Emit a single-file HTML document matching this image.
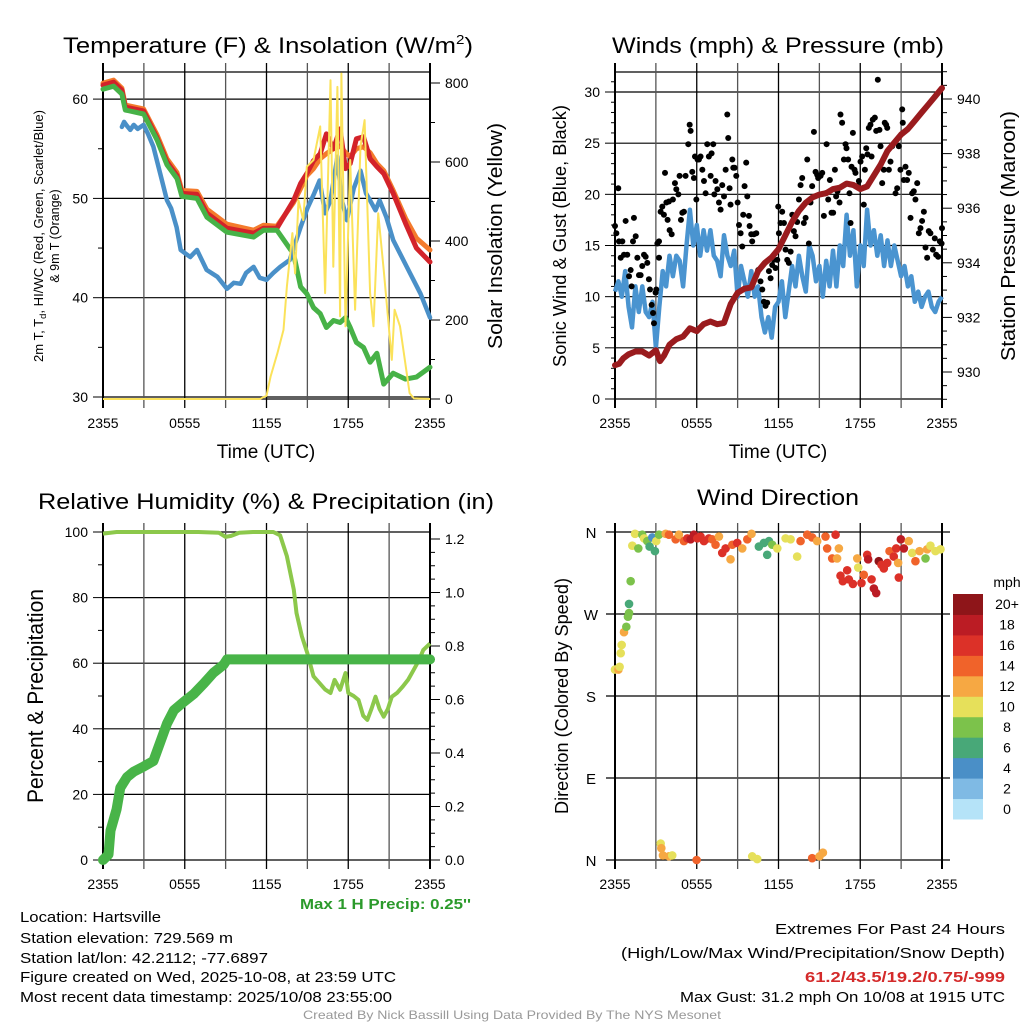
<!DOCTYPE html>
<html><head><meta charset="utf-8"><style>
html,body{margin:0;padding:0;background:#fff}
svg{display:block;font-family:"Liberation Sans",sans-serif}
</style></head><body>
<svg id="chart" width="1024" height="1024" viewBox="0 0 1024 1024" xmlns="http://www.w3.org/2000/svg">
<rect x="0" y="0" width="1024" height="1024" fill="#fff"/>
<g id="layer"></g>
<!-- titles -->
<text x="268" y="53" text-anchor="middle" font-size="22" textLength="410" lengthAdjust="spacingAndGlyphs">Temperature (F) &amp; Insolation (W/m<tspan font-size="13" dy="-9">2</tspan><tspan dy="9">)</tspan></text>
<text x="778" y="53" text-anchor="middle" font-size="22" textLength="332" lengthAdjust="spacingAndGlyphs">Winds (mph) &amp; Pressure (mb)</text>
<text x="266" y="509" text-anchor="middle" font-size="22" textLength="456" lengthAdjust="spacingAndGlyphs">Relative Humidity (%) &amp; Precipitation (in)</text>
<text x="778" y="505" text-anchor="middle" font-size="22" textLength="162" lengthAdjust="spacingAndGlyphs">Wind Direction</text>
<!-- axis titles -->
<text x="266" y="458" text-anchor="middle" font-size="19">Time (UTC)</text>
<text x="778" y="458" text-anchor="middle" font-size="19">Time (UTC)</text>
<text transform="translate(43,236) rotate(-90)" text-anchor="middle" font-size="12.5" textLength="252" lengthAdjust="spacingAndGlyphs">2m T, T<tspan font-size="9" dy="3">d</tspan><tspan dy="-3">, HI/WC (Red, Green, Scarlet/Blue)</tspan></text>
<text transform="translate(59,236) rotate(-90)" text-anchor="middle" font-size="12.5">&amp; 9m T (Orange)</text>
<text transform="translate(502,236) rotate(-90)" text-anchor="middle" font-size="20" textLength="226" lengthAdjust="spacingAndGlyphs">Solar Insolation (Yellow)</text>
<text transform="translate(566,236) rotate(-90)" text-anchor="middle" font-size="18" textLength="262" lengthAdjust="spacingAndGlyphs">Sonic Wind &amp; Gust (Blue, Black)</text>
<text transform="translate(1015,236) rotate(-90)" text-anchor="middle" font-size="20" textLength="250" lengthAdjust="spacingAndGlyphs">Station Pressure (Maroon)</text>
<text transform="translate(43,696) rotate(-90)" text-anchor="middle" font-size="22" textLength="214" lengthAdjust="spacingAndGlyphs">Percent &amp; Precipitation</text>
<text transform="translate(568,696) rotate(-90)" text-anchor="middle" font-size="18" textLength="236" lengthAdjust="spacingAndGlyphs">Direction (Colored By Speed)</text>
<!-- footer text -->
<text x="471" y="909" text-anchor="end" font-size="15" font-weight="bold" fill="#2b9a2b" textLength="171" lengthAdjust="spacingAndGlyphs">Max 1 H Precip: 0.25''</text>
<g font-size="15">
<text x="20" y="922" textLength="141" lengthAdjust="spacingAndGlyphs">Location: Hartsville</text>
<text x="20" y="943" textLength="213" lengthAdjust="spacingAndGlyphs">Station elevation: 729.569 m</text>
<text x="20" y="963" textLength="248" lengthAdjust="spacingAndGlyphs">Station lat/lon: 42.2112; -77.6897</text>
<text x="20" y="982" textLength="376" lengthAdjust="spacingAndGlyphs">Figure created on Wed, 2025-10-08, at 23:59 UTC</text>
<text x="20" y="1002" textLength="372" lengthAdjust="spacingAndGlyphs">Most recent data timestamp: 2025/10/08 23:55:00</text>
</g>
<g font-size="15" text-anchor="end">
<text x="1005" y="934" textLength="230" lengthAdjust="spacingAndGlyphs">Extremes For Past 24 Hours</text>
<text x="1005" y="958" textLength="384" lengthAdjust="spacingAndGlyphs">(High/Low/Max Wind/Precipitation/Snow Depth)</text>
<text x="1005" y="982" textLength="200" lengthAdjust="spacingAndGlyphs" font-weight="bold" fill="#d42a2a">61.2/43.5/19.2/0.75/-999</text>
<text x="1005" y="1002" textLength="325" lengthAdjust="spacingAndGlyphs">Max Gust: 31.2 mph On 10/08 at 1915 UTC</text>
</g>
<text x="512" y="1019" text-anchor="middle" font-size="12" fill="#999" textLength="418" lengthAdjust="spacingAndGlyphs">Created By Nick Bassill Using Data Provided By The NYS Mesonet</text>
</svg>
<script>
// ---------- DATA ----------
const xTickLabels = ["2355","0555","1155","1755","2355"];
// temperature panel (hours since 2355)
const tempHours = [0,0.78,1.39,1.64,2.98,3.96,4.69,5.43,5.79,6.9,7.63,9.1,11.05,11.78,12.76,13.99,14.5,14.96,15.45,15.94,16.4,16.92,17.4,17.8,18.14,18.6,19.12,19.6,20.1,20.6,21.3,22.2,23.0,24];
const redT =   [61.4,61.7,60.9,59.2,58.8,56.1,53.7,52.3,50.5,50.4,48.5,47.0,46.5,47.0,47.0,49.8,51.5,52.5,53.8,54.5,56.5,55.0,57.0,53.0,53.5,56.0,56.2,54.0,53.2,52.5,50.5,47.5,45.0,43.6];
const orangeT =[61.6,61.9,61.1,59.4,59.0,56.4,54.0,52.6,50.8,50.7,48.9,47.4,46.8,47.3,47.2,49.6,51.0,52.3,53.0,54.0,54.5,55.0,55.3,54.6,54.2,55.0,55.2,54.6,53.5,52.8,50.8,48.0,46.0,44.8];
const greenT = [61.0,61.3,60.5,58.9,58.5,55.9,53.4,52.0,50.2,50.0,48.1,46.6,46.1,46.8,46.8,44.4,41.1,40.4,39.0,38.4,37.0,37.7,37.5,38.0,37.0,35.5,35.0,33.5,34.4,31.3,32.4,31.8,32.0,33.0];
const dewHours = [1.39,1.55,1.76,2.0,2.25,2.55,2.98,3.3,3.7,4.2,4.7,5.0,5.4,5.7,6.4,6.9,7.6,8.4,9.1,9.6,10.1,10.5,11.05,11.5,12.0,12.5,13.0,13.7,14.5,15.0,15.5,15.9,16.3,16.7,17.2,17.5,17.9,18.4,18.9,19.3,19.6,20.0,20.3,20.8,21.3,22.3,23.3,24];
const dewT =   [57.2,57.7,57.3,56.9,57.4,57.0,57.4,56.5,55.2,52.5,49.8,49.0,47.1,44.8,44.1,44.8,42.8,42.1,40.9,41.5,41.4,42.5,43.1,42.0,41.8,42.5,43.1,43.8,47.1,49.0,50.5,51.8,48.5,49.8,54.2,50.0,47.8,51.0,52.8,50.5,49.8,48.8,49.8,48.1,45.8,43.1,40.4,38.0];
const solarHours = [0,11.5,12.0,12.3,12.8,13.25,13.5,13.9,14.1,14.35,14.7,14.96,15.45,15.94,16.3,16.7,16.9,17.2,17.4,17.5,17.8,18.14,18.5,18.9,19.2,19.6,19.85,20.2,20.6,21.2,21.4,21.8,22.5,22.8,24];
const solarW =     [0,0,8,57,116,175,285,420,318,503,453,588,605,690,268,807,335,790,209,824,184,605,226,640,706,268,184,470,327,99,226,184,15,2,0];
// wind panel
const windHours = Array.from({length:97},(_,i)=>i*0.25);
const windSpeed = [10.5,11.5,10,12.5,9,7,11,8.5,11,8.5,8,9.5,5,9,12.5,11,14,12,14,13.5,11,15,18.5,15,17,14,16.5,14.5,16.5,14,13.5,12,16,14,13,14.5,10,13,11.5,10,12.5,10,11,8,6.5,8,6,9,9.5,11.5,8,10.5,13,11,14,12,10.5,15,14,11.5,13,10,13.5,11,14.5,11,15,13,18,14,16.5,11,15,13,18.5,15,16.5,14,16,13,15.5,13,15,13.5,12,13,11,12,9.5,10.5,9,10,10.5,9,8.5,9.5,10];
const gustHours = [0,0.1,0.24,0.29,0.42,0.54,0.66,0.78,0.9,1.03,1.15,1.22,1.32,1.39,1.52,1.64,1.76,1.88,2.0,2.13,2.25,2.37,2.49,2.57,2.69,2.79,2.86,2.98,3.03,3.11,3.23,3.23,3.35,3.47,3.59,3.67,3.77,3.86,3.96,4.01,4.16,4.25,4.4,4.5,4.65,4.74,4.84,4.94,5.06,5.18,5.38,5.48,5.55,5.67,5.79,5.87,5.97,6.06,6.16,6.28,6.41,6.53,6.65,6.77,6.89,7.02,7.09,7.21,7.29,7.38,7.51,7.63,7.75,7.87,8.0,8.12,8.24,8.31,8.41,8.48,8.61,8.68,8.78,8.9,9.0,9.1,9.22,9.34,9.41,9.51,9.63,9.71,9.83,9.88,10.0,10.07,10.2,10.37,10.51,10.68,10.81,10.93,11.05,11.17,11.3,11.42,11.54,11.66,11.78,11.91,11.98,12.03,12.15,12.27,12.4,12.52,12.64,12.76,12.89,13.01,13.13,13.25,13.37,13.5,13.62,13.74,13.86,13.99,14.11,14.23,14.35,14.47,14.6,14.72,14.84,14.91,15.09,15.21,15.33,15.45,15.53,15.65,15.77,15.89,16.01,16.14,16.23,16.33,16.48,16.55,16.67,16.8,16.92,16.99,17.11,17.21,17.29,17.36,17.46,17.58,17.65,17.78,17.9,18.02,18.14,18.26,18.34,18.44,18.53,18.63,18.75,18.83,18.92,19.07,19.17,19.29,19.41,19.49,19.61,19.73,19.8,19.9,19.98,20.1,20.22,20.34,20.59,20.71,20.83,20.95,21.08,21.12,21.2,21.32,21.44,21.56,21.69,21.81,21.93,22.05,22.18,22.3,22.42,22.54,22.67,22.79,22.91,23.03,23.15,23.33,23.47,23.57,23.72,23.84,24.0,23.97];
const gustSpeed = [16.9,16.2,20.6,15.4,13.8,15.4,14.1,17.4,14.1,12.0,12.6,11.0,15.4,17.7,15.9,13.8,12.1,12.1,13.0,14.1,13.9,13.3,11.7,10.7,9.2,8.4,7.4,10.4,10.7,15.2,15.4,13.8,18.3,18.8,18.0,22.1,19.2,17.5,19.3,16.5,16.1,19.5,21.1,20.5,20.0,21.8,17.5,18.2,18.3,21.8,24.9,26.8,26.2,22.2,21.6,23.7,19.5,23.4,23.4,23.7,22.4,21.3,20.1,24.9,23.7,21.8,24.0,24.9,20.0,21.3,20.5,19.2,18.5,20.9,19.8,22.4,27.8,25.5,20.6,19.0,23.4,22.6,22.6,21.8,19.2,17.0,16.2,14.9,18.0,20.8,23.1,19.8,17.9,16.9,16.1,15.4,16.1,16.2,12.6,11.5,10.7,9.5,9.1,9.4,12.5,11.8,13.1,13.6,12.8,13.6,18.8,16.2,17.2,18.3,17.2,14.6,13.6,13.3,14.4,18.0,16.4,15.9,17.3,19.5,20.9,21.6,17.2,17.7,23.4,15.2,19.2,20.8,26.1,22.2,21.9,21.6,21.8,22.1,17.9,20.1,24.9,19.5,21.4,18.2,18.2,22.4,19.8,20.3,19.2,27.8,27.0,23.4,24.9,24.5,23.4,20.1,17.2,22.7,26.0,22.4,22.1,20.8,21.3,23.2,23.7,19.0,22.4,24.5,23.9,26.5,26.8,23.7,27.3,27.5,26.2,31.2,26.3,24.7,21.1,22.4,27.0,26.8,26.5,22.4,23.2,24.7,20.1,20.6,24.7,22.4,28.3,27.0,21.4,22.7,21.4,22.1,17.7,20.1,20.3,19.5,21.1,16.2,16.7,17.4,18.3,14.8,13.8,16.4,16.2,14.6,15.7,14.1,13.9,15.4,16.7,15.2];
const presHours = [0,0.3,0.6,1.0,1.5,2.0,2.5,3.0,3.3,3.6,4.0,4.5,5.0,5.5,6.0,6.5,7.0,7.5,8.0,8.5,9.0,9.5,10.0,10.5,11.0,11.5,12.0,12.5,13.0,13.5,14.0,14.5,15.0,15.5,16.0,16.5,17.0,17.5,18.0,18.5,19.0,19.5,20.0,20.5,21.0,21.5,22.0,22.5,23.0,23.5,24];
const pressure =  [930.25,930.3,930.5,930.65,930.75,930.75,930.6,930.8,930.4,930.6,931.0,931.2,931.3,931.6,931.5,931.75,931.85,931.75,931.8,932.5,932.9,933.05,933.1,933.7,934.0,934.2,934.5,935.0,935.5,935.9,936.2,936.4,936.5,936.55,936.7,936.75,936.9,936.85,936.7,936.8,937.2,937.6,938.1,938.4,938.7,938.9,939.2,939.5,939.8,940.1,940.4];
// humidity panel
const rhHours = [0,1,2,3,5,7,8.5,9.0,9.4,10,11,12,12.5,13,13.5,14,14.2,14.6,15,15.45,15.9,16.3,16.7,17,17.4,17.8,18,18.4,18.75,19.1,19.4,19.7,20,20.3,20.6,20.9,21.2,21.6,22,22.4,22.8,23.2,23.5,24];
const rhValues = [99.5,100,100,100,100,100,99.8,98.5,98.8,99.8,100,100,100,99,92.6,82.4,75.3,68.2,63,56,53.9,52,50.9,54.9,51.9,57,50.9,50,48.8,44,42.7,46,49.8,46,43.7,46,49.8,51,52.9,55,58,61,64,66];
const precipHours = [0,0.4,0.55,1.0,1.27,1.76,2.25,3.0,3.7,4.2,4.7,5.2,5.9,6.65,7.4,8.1,8.85,9.1,12,16,20,24];
const precipIn =    [0,0.02,0.11,0.19,0.27,0.31,0.33,0.35,0.37,0.44,0.51,0.56,0.59,0.62,0.66,0.70,0.73,0.75,0.75,0.75,0.75,0.75];
// wind direction panel
const dirHours = [0,0.25,0.34,0.42,0.49,0.66,0.83,0.95,1.03,1.03,1.15,1.27,1.47,1.71,2.0,2.13,2.37,2.54,2.74,2.93,3.03,3.23,3.35,3.4,3.52,3.96,4.2,5.99,3.72,3.96,4.45,4.69,5.06,5.31,5.55,5.79,6.04,6.28,6.53,6.89,7.14,7.38,7.63,7.87,8.12,8.48,8.61,8.97,9.34,9.71,10.02,10.56,10.93,11.17,11.3,11.54,11.91,12.52,12.89,13.37,13.62,14.11,14.47,14.84,15.45,15.57,15.94,16.3,16.19,16.43,16.55,16.72,17.04,17.16,17.46,17.78,17.85,18.09,18.26,18.51,18.58,18.83,19.0,19.17,19.36,19.56,19.73,19.98,20.15,20.46,20.64,20.78,20.83,20.98,21.2,21.56,21.81,22.05,22.35,22.79,22.91,23.15,23.52,23.89,10.07,10.44,14.47,15.01,15.26];
const dirDeg =   [209,209,212,227,236,250,256,267,271,281,306,345,358,342,357,353,350,344,354,339,350,357,18,13,5,4,5,0,358,357,352,357,350,353,352,357,353,355,350,353,352,346,355,337,342,330,346,348,342,352,358,344,348,335,350,346,342,353,352,333,350,357,354,350,355,342,331,331,357,342,312,306,318,308,303,331,321,304,313,335,330,308,298,293,328,324,320,326,339,333,342,326,310,352,342,350,337,328,339,331,341,345,339,341,4,1,2,4,8];
const dirSpeed = [11,13,11,10,10,13,8,8,8,6,8,10,11,8,8,10,8,7,4,6,10,8,10,12,12,12,10,14,12,14,14,13,14,17,18,18,17,16,16,16,14,14,12,16,16,12,14,16,12,14,12,7,6,6,6,8,10,10,10,10,14,14,14,12,14,14,14,12,16,12,16,17,16,17,16,12,10,16,14,16,18,16,18,18,20,16,16,17,14,16,16,12,16,18,18,12,10,14,12,8,12,10,10,10,10,10,14,12,12];
const speedLabels = ["0","2","4","6","8","10","12","14","16","18","20+"];
const speedColors = ["#b5e3f8","#7fbae4","#4a8fc7","#48a878","#7cc24b","#e6e05a","#f6a843","#f0632a","#dc3128","#bb1c24","#8e1519"];
const dirLabels = ["N","E","S","W","N"];

// ---------- DRAWING ----------
const NS="http://www.w3.org/2000/svg";
const layer=document.getElementById('layer');
function mk(tag,attrs,parent){const e=document.createElementNS(NS,tag);for(const k in attrs)e.setAttribute(k,attrs[k]);(parent||layer).appendChild(e);return e;}
function lin(d0,d1,r0,r1){return v=>r0+(v-d0)*(r1-r0)/(d1-d0);}
function pathD(xs,ys,fx,fy){return xs.map((h,i)=>(i?'L':'M')+fx(h).toFixed(1)+','+fy(ys[i]).toFixed(1)).join('');}

function xAxis(g,x0,x1,yTop,yBot,labelY){
  const fx=lin(0,24,x0,x1);
  for(let i=0;i<=8;i++){
    const x=fx(i*3);
    const l=mk('line',{x1:x,y1:yTop-9,x2:x,y2:yBot+9,stroke:(i%2?'#555':'#000'),'stroke-width':(i==0||i==8)?2:1.3},g);
    
    
  }
  xTickLabels.forEach((t,i)=>{
    const tx=mk('text',{x:fx(i*6),y:labelY,'text-anchor':'middle','font-size':14},g);
    tx.textContent=t;
    
    
  });
  return fx;
}
function yTicks(g,fy,vals,xEdge,side,len,fmt,labels){
  vals.forEach(v=>{
    const y=fy(v);
    const t=mk('line',{x1:xEdge,y1:y,x2:xEdge+side*len,y2:y,stroke:'#000','stroke-width':1},g);
    
    
    if(labels){
      const tx=mk('text',{x:xEdge+side*(len+5),y:y+5,'text-anchor':side<0?'end':'start','font-size':14},g);
      tx.textContent=fmt(v);
      
      
    }
  });
}
function hgrid(g,fy,vals,x0,x1){
  vals.forEach(v=>{const l=mk('line',{x1:x0,y1:fy(v),x2:x1,y2:fy(v),stroke:'#000','stroke-width':1.2},g);
    
    });
}
function range(a,b,s){const r=[];for(let v=a;v<=b+1e-9;v+=s)r.push(+v.toFixed(4));return r;}

// Panel 1: temperature
(function(){
  const g=mk('g',{});
  
  
  const X0=103,X1=430,YT=72,YB=399;
  const fy=lin(30,40,397,297.7);
  const fs=lin(0,800,399,83);
  hgrid(g,fy,[30,40,50,60],X0,X1);
  mk('line',{x1:X0,y1:YT,x2:X1,y2:YT,stroke:'#000','stroke-width':1.2},g);
  mk('line',{x1:X0,y1:YB,x2:X1,y2:YB,stroke:'#000','stroke-width':1.2},g);
  const fx=xAxis(g,X0,X1,YT,YB,428);
  yTicks(g,fy,[30,40,50,60],X0,-1,10,v=>v,true);
  yTicks(g,fy,[35,45,55],X0,-1,5,v=>v,false);
  yTicks(g,fs,[0,200,400,600,800],X1,1,10,v=>v,true);
  yTicks(g,fs,[100,300,500,700],X1,1,5,v=>v,false);
  const s=[['orange-9m-temp-line',tempHours,orangeT,'#f47b2c',5],['red-2m-temp-line',tempHours,redT,'#d3232a',5],['green-hiwc-line',tempHours,greenT,'#47b247',5],['blue-dewpoint-line',dewHours,dewT,'#4a90c8',4.5]];
  s.forEach(([n,xs,ys,c,w])=>{const p=mk('path',{d:pathD(xs,ys,fx,fy),fill:'none',stroke:c,'stroke-width':w,'stroke-linejoin':'round','stroke-linecap':'round'},g);
    
    });
  const sp=mk('path',{d:pathD(solarHours,solarW,fx,fs),fill:'none',stroke:'#fbe25a','stroke-width':2,'stroke-linejoin':'round'},g);
  
  
})();

// Panel 2: winds
(function(){
  const g=mk('g',{});
  
  
  const X0=615,X1=942,YT=72,YB=399;
  const fy=lin(0,30,399,92);
  const fp=lin(930,940,372,99);
  hgrid(g,fy,[5,10,15,20,25,30],X0,X1);
  mk('line',{x1:X0,y1:YT,x2:X1,y2:YT,stroke:'#000','stroke-width':1.2},g);
  mk('line',{x1:X0,y1:YB,x2:X1,y2:YB,stroke:'#000','stroke-width':1.2},g);
  const fx=xAxis(g,X0,X1,YT,YB,428);
  yTicks(g,fy,range(0,30,5),X0,-1,10,v=>v,true);
  yTicks(g,fy,range(1,31,1).filter(v=>v%5),X0,-1,4,v=>v,false);
  yTicks(g,fp,range(930,940,2),X1,1,10,v=>v,true);
  yTicks(g,fp,range(929,941,0.5).filter(v=>v%2),X1,1,5,v=>v,false);
  const bl=mk('path',{d:pathD(windHours,windSpeed,fx,fy),fill:'none',stroke:'#4a94d0','stroke-width':4.5,'stroke-linejoin':'round'},g);
  
  
  gustHours.forEach((h,i)=>{const c=mk('circle',{cx:fx(h),cy:fy(gustSpeed[i]),r:3,fill:'#000'},g);
    
    });
  const pl=mk('path',{d:pathD(presHours,pressure,fx,fp),fill:'none',stroke:'#9a1b1e','stroke-width':6,'stroke-linejoin':'round','stroke-linecap':'round'},g);
  
  
})();

// Panel 3: humidity & precip
(function(){
  const g=mk('g',{});
  
  
  const X0=103,X1=430,YT=532,YB=860;
  const fy=lin(0,100,860,532);
  const fr=lin(0,1.2,860,539);
  hgrid(g,fy,[0,20,40,60,80,100],X0,X1);
  const fx=xAxis(g,X0,X1,YT,YB,889);
  yTicks(g,fy,range(0,100,20),X0,-1,10,v=>v,true);
  yTicks(g,fy,range(10,90,20),X0,-1,5,v=>v,false);
  yTicks(g,fr,range(0,1.2,0.2),X1,1,10,v=>v.toFixed(1),true);
  yTicks(g,fr,range(0,1.2,0.05).filter(v=>Math.abs(v*5-Math.round(v*5))>0.01),X1,1,5,v=>v,false);
  const rh=mk('path',{d:pathD(rhHours,rhValues,fx,fy),fill:'none',stroke:'#8cc84b','stroke-width':4,'stroke-linejoin':'round'},g);
  
  
  const pp=mk('path',{d:pathD(precipHours,precipIn,fx,fr),fill:'none',stroke:'#48b448','stroke-width':10,'stroke-linejoin':'round','stroke-linecap':'round'},g);
  
  
})();

// Panel 4: wind direction
(function(){
  const g=mk('g',{});
  
  
  const X0=615,X1=942,YT=532,YB=860;
  const fy=lin(0,360,860,532);
  dirLabels.forEach((t,i)=>{
    const y=fy(i*90);
    const l=mk('line',{x1:X0-9,y1:y,x2:X1+8,y2:y,stroke:'#000','stroke-width':1.2},g);
    
    
    const tx=mk('text',{x:591,y:y+6,'text-anchor':'middle','font-size':15},g);
    tx.textContent=t;
    
    
  });
  const fx=xAxis(g,X0,X1,YT,YB,889);
  dirHours.forEach((h,i)=>{
    const ci=Math.min(10,Math.floor(dirSpeed[i]/2));
    const c=mk('circle',{cx:fx(h),cy:fy(dirDeg[i]),r:4.3,fill:speedColors[ci]},g);
    
    
  });
  const cb=mk('g',{},g);
  
  
  const bh=(819-594)/11;
  speedColors.forEach((c,i)=>{
    const y=819-(i+1)*bh;
    const r=mk('rect',{x:953,y:y,width:30,height:bh+0.5,fill:c},cb);
    
    
    const t=mk('text',{x:1007,y:y+bh/2+5,'text-anchor':'middle','font-size':14},cb);
    t.textContent=speedLabels[i];
    
    
  });
  const u=mk('text',{x:1007,y:587,'text-anchor':'middle','font-size':14},cb);
  u.textContent='mph';
  
  
})();
</script>
</body></html>
